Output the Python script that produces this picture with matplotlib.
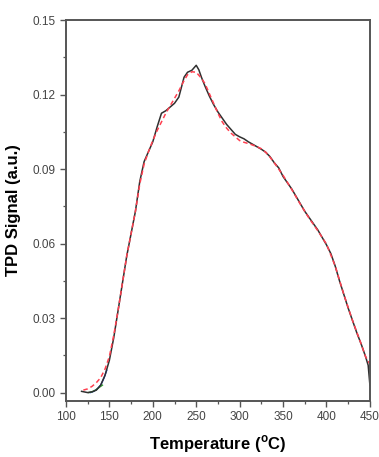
import numpy as np
import matplotlib.pyplot as plt
from matplotlib.ticker import MultipleLocator

plt.rcParams['font.family'] = ['Liberation Sans', 'DejaVu Sans']

# measured curve (black solid)
temp = [118, 125, 130, 135, 140, 145, 150, 155, 160, 165, 170, 175, 180, 185, 190,
        195, 200, 205, 210, 215, 220, 225, 230, 233, 236, 240, 245, 250, 253, 256,
        260, 265, 270, 275, 280, 285, 290, 295, 300, 305, 310, 315, 320, 325, 330,
        335, 340, 345, 350, 355, 360, 365, 370, 375, 380, 385, 390, 395, 400, 405,
        410, 415, 420, 425, 430, 435, 440, 445, 448, 450]
signal = [0.0005, 0.0, 0.0003, 0.001, 0.003, 0.007, 0.013, 0.022, 0.033, 0.044,
          0.055, 0.064, 0.073, 0.085, 0.093, 0.097, 0.101, 0.107, 0.1125, 0.1135,
          0.115, 0.1165, 0.119, 0.123, 0.127, 0.129, 0.1298, 0.1318, 0.130, 0.127,
          0.1235, 0.1195, 0.116, 0.113, 0.1105, 0.108, 0.106, 0.104, 0.103, 0.1022,
          0.101, 0.100, 0.099, 0.098, 0.0968, 0.095, 0.0925, 0.0905, 0.087, 0.0845,
          0.082, 0.079, 0.076, 0.073, 0.0705, 0.068, 0.0655, 0.0625, 0.0595, 0.056,
          0.051, 0.045, 0.0395, 0.034, 0.029, 0.024, 0.0195, 0.0145, 0.011, 0.003]

# fitted envelope (red dashed)
temp_fit = [120, 125, 130, 135, 140, 145, 150, 155, 160, 165, 170, 175, 180, 185,
            190, 195, 200, 205, 210, 215, 220, 225, 230, 235, 240, 245, 250, 255,
            260, 265, 270, 275, 280, 285, 290, 295, 300, 305, 310, 315, 320, 325,
            330, 335, 340, 345, 350, 360, 370, 380, 390, 400, 410, 420, 430, 440,
            445, 450]
signal_fit = [0.001, 0.0015, 0.0025, 0.004, 0.006, 0.0095, 0.0145, 0.023, 0.033,
              0.044, 0.055, 0.064, 0.073, 0.084, 0.092, 0.097, 0.1015, 0.1055,
              0.109, 0.1125, 0.1155, 0.1185, 0.1215, 0.125, 0.128, 0.1292, 0.129,
              0.127, 0.1245, 0.1205, 0.1165, 0.1125, 0.109, 0.1065, 0.1045, 0.103,
              0.1015, 0.1008, 0.1003, 0.0997, 0.099, 0.0982, 0.0968, 0.0948, 0.0925,
              0.09, 0.0875, 0.0818, 0.0758, 0.0702, 0.0652, 0.0598, 0.051, 0.0395,
              0.029, 0.0195, 0.0145, 0.0115]

# low-temperature components
temp_b = [128, 132, 136, 140, 144, 147]
signal_b = [0.0, 0.0005, 0.0015, 0.003, 0.006, 0.009]
temp_g = [126, 130, 134, 138, 142]
signal_g = [0.0, 0.0003, 0.001, 0.002, 0.003]

fig = plt.figure(figsize=(3.79, 4.57), dpi=100)
ax = fig.add_axes([0.174, 0.123, 0.802, 0.833])

ax.plot(temp_b, signal_b, color='#2040e0', lw=1.0)
ax.plot(temp_g, signal_g, color='#30a030', lw=1.0)
ax.plot(temp, signal, color='#303030', lw=1.1)
ax.plot(temp_fit, signal_fit, color='#ff4050', lw=1.1, ls=(0, (3, 2)))

ax.set_xlim(100, 450)
ax.set_ylim(-0.0033, 0.15)
ax.xaxis.set_major_locator(MultipleLocator(50))
ax.xaxis.set_minor_locator(MultipleLocator(25))
ax.yaxis.set_major_locator(MultipleLocator(0.03))
ax.yaxis.set_minor_locator(MultipleLocator(0.015))
ax.yaxis.set_major_formatter(plt.FormatStrFormatter('%.2f'))

for s in ax.spines.values():
    s.set_linewidth(1.4)
    s.set_color('#555555')
ax.tick_params(which='major', direction='out', length=4, width=1.0,
               colors='#555555', labelsize=8.5, labelcolor='#444444')
ax.tick_params(which='minor', direction='out', length=2.5, width=0.9,
               colors='#555555')

ax.set_xlabel('Temperature ($^\\mathregular{o}$C)', fontsize=12, fontweight='bold',
              labelpad=7)
ax.set_ylabel('TPD Signal (a.u.)', fontsize=12, fontweight='bold', labelpad=8)

fig.savefig('out.png', dpi=100)
